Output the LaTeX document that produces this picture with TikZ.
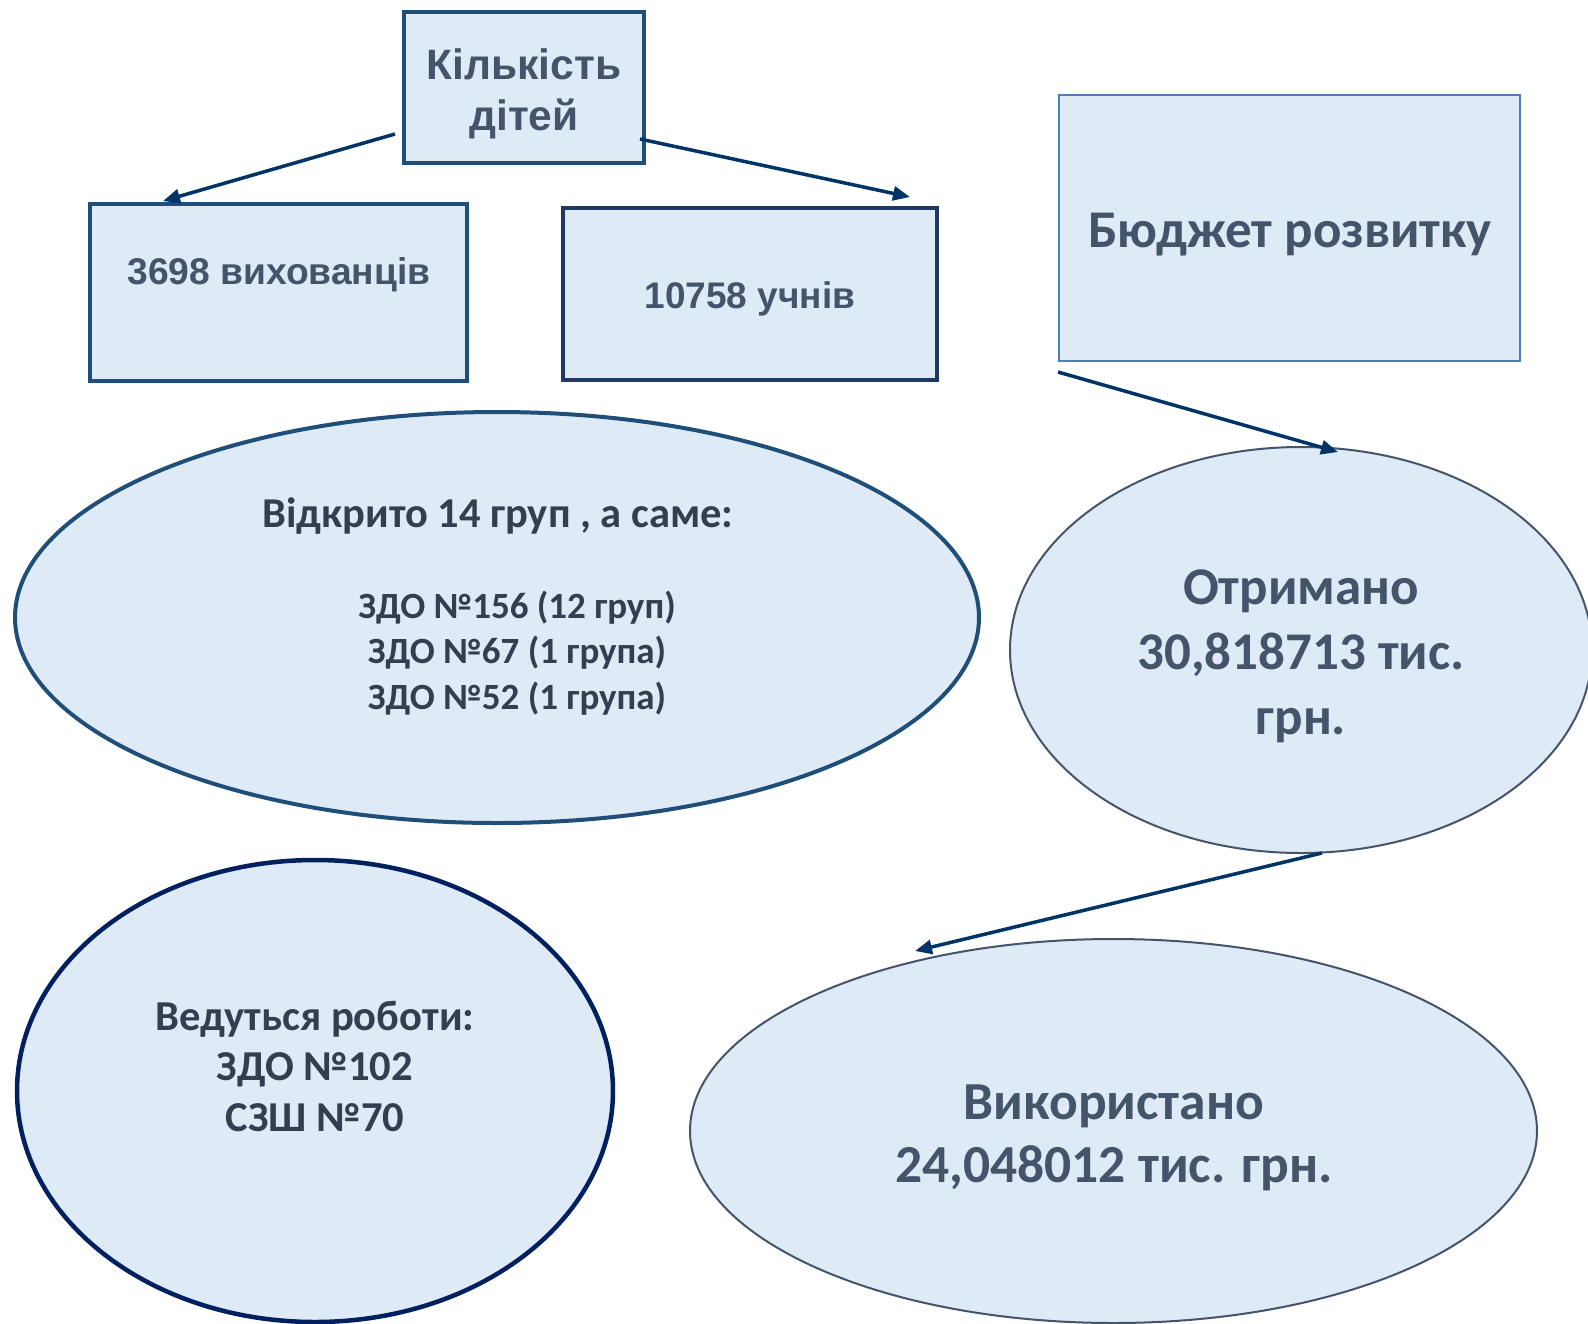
\documentclass[tikz,border=0pt]{standalone}
\usepackage{fontspec}
\newfontfamily\arialf{Liberation Sans}
\newfontfamily\calibf{Carlito}
\usetikzlibrary{shapes.geometric,arrows.meta}
\definecolor{fillc}{HTML}{DEEAF6}
\definecolor{txt}{HTML}{44546A}
\definecolor{txtd}{HTML}{333F50}
\definecolor{bordA}{HTML}{1F4E79}
\definecolor{bordB}{HTML}{1F3864}
\definecolor{bordC}{HTML}{4F7DB8}
\definecolor{bordD}{HTML}{44546A}
\definecolor{bordE}{HTML}{002060}
\definecolor{arrc}{HTML}{003366}
\tikzset{
  boxst/.style={draw, fill=fillc, rectangle, inner sep=0pt},
  ellst/.style={draw, fill=fillc, ellipse, inner sep=0pt},
  txtnode/.style={inner sep=0pt, align=center, text=txt},
  conn/.style={draw=arrc, line width=3.5pt, -{Triangle[length=17pt,width=14pt]}}
}
\begin{document}
\begin{tikzpicture}[x=1pt,y=-1pt]
\useasboundingbox (0,0) rectangle (1588,1323);
\clip (0,0) rectangle (1588,1323);
% boxes
\node[boxst, draw=bordA, line width=4pt, minimum width=240pt, minimum height=151pt] (kids) at (524,87.5) {};
\node[boxst, draw=bordA, line width=4pt, minimum width=377pt, minimum height=177pt] (pre) at (278.5,292.5) {};
\node[boxst, draw=bordB, line width=4pt, minimum width=374pt, minimum height=172pt] (sch) at (750,294) {};
\node[boxst, draw=bordC, line width=2.5pt, minimum width=461pt, minimum height=266pt] (bud) at (1289.5,228) {};
% ellipses
\node[ellst, draw=bordA, line width=4pt, minimum width=964pt, minimum height=411pt] (grp) at (497,617.5) {};
\node[ellst, draw=bordD, line width=2pt, minimum width=582pt, minimum height=406pt] (got) at (1301,650) {};
\node[ellst, draw=bordE, line width=4.5pt, minimum width=596pt, minimum height=462pt] (work) at (315,1091) {};
\node[ellst, draw=bordD, line width=2pt, minimum width=847pt, minimum height=384pt] (used) at (1113.5,1131) {};
% texts
\node[txtnode, font={\arialf\bfseries\fontsize{42.5}{51}\selectfont}] (tkids) at (524,94) {Кількість\\дітей};
\node[txtnode, font={\arialf\bfseries\fontsize{37.2}{44}\selectfont}] (tpre) at (279,275) {3698 вихованців};
\node[txtnode, font={\arialf\bfseries\fontsize{37}{44}\selectfont}] (tsch) at (750,299) {10758 учнів};
\node[txtnode, font={\calibf\bfseries\fontsize{53}{60}\selectfont}] (tbud) at (1290,235) {Бюджет розвитку};
\node[txtnode, text=txtd, font={\calibf\bfseries\fontsize{42.5}{45.5}\selectfont}] (tgrp) at (498,516) {Відкрито 14 груп , а саме:};
\node[txtnode, text=txtd, font={\calibf\bfseries\fontsize{37}{45.5}\selectfont}] (tlist) at (517,653) {ЗДО №156 (12 груп)\\ЗДО №67 (1 група)\\ЗДО №52 (1 група)};
\node[txtnode, font={\calibf\bfseries\fontsize{53}{65}\selectfont}] (tgot) at (1301,656) {Отримано\\30,818713 тис.\\грн.};
\node[txtnode, text=txtd, font={\calibf\bfseries\fontsize{42.6}{50.5}\selectfont}] (twork) at (315,1066) {Ведуться роботи:\\ЗДО №102\\СЗШ №70};
\node[txtnode, font={\calibf\bfseries\fontsize{53.5}{63}\selectfont}] (tused) at (1114,1137.5) {Використано\\24,048012 тис. грн.};
% connector endpoints
\coordinate (a1s) at (395,134);
\coordinate (a1e) at (163,201);
\coordinate (a2s) at (640,139);
\coordinate (a2e) at (910,197);
\coordinate (a3s) at (1058,372);
\coordinate (a3e) at (1338,452);
\coordinate (a4s) at (1322,853);
\coordinate (a4e) at (915,951);
\draw[conn] (a1s) -- (a1e);
\draw[conn] (a2s) -- (a2e);
\draw[conn] (a3s) -- (a3e);
\draw[conn] (a4s) -- (a4e);
\end{tikzpicture}
\end{document}
